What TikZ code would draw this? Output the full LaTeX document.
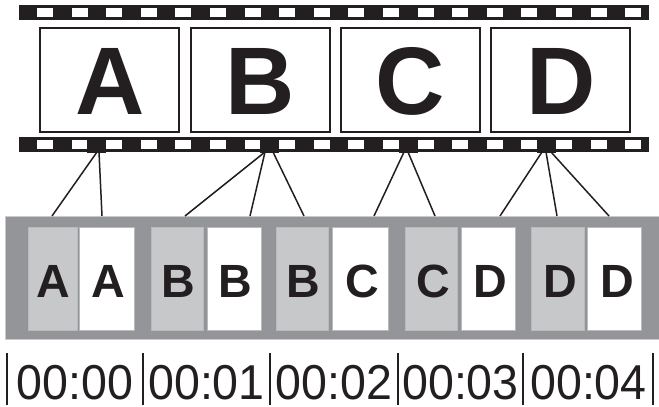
\documentclass[tikz,border=0pt]{standalone}
\usepackage{fontspec}
\setmainfont{Liberation Sans}
\definecolor{ink}{HTML}{231F20}
\definecolor{midgray}{HTML}{939598}
\definecolor{lightpanel}{HTML}{C7C8CA}
\definecolor{edgegray}{HTML}{B8BABC}
\definecolor{boxedge}{HTML}{C9CACC}
\begin{document}
\begin{tikzpicture}[x=1pt,y=-1pt,
  frame/.style={draw=ink, line width=2pt, minimum width=139pt, minimum height=104pt, inner sep=0pt},
  bigletter/.style={font=\fontsize{96}{96}\selectfont\bfseries, text=ink, inner sep=0pt, anchor=base},
  panelg/.style={fill=lightpanel, draw=edgegray, line width=0.8pt, minimum height=103pt, inner sep=0pt},
  panelw/.style={fill=white, draw=edgegray, line width=0.8pt, minimum height=103pt, inner sep=0pt},
  smallletter/.style={font=\fontsize{46.6}{47}\selectfont\bfseries, text=ink, inner sep=0pt, anchor=base},
  timetext/.style={font=\fontsize{49}{50}\selectfont, text=ink, inner sep=0pt, anchor=base},
  link/.style={draw=ink, line width=1.5pt},
  tickbar/.style={draw=ink, line width=1.8pt},
  tab/.style={fill=ink, minimum width=19pt, minimum height=16pt, inner sep=0pt}
]
\useasboundingbox (0,0) rectangle (659,407);
\fill[white] (0,0) rectangle (659,407);

% film strips
\fill[ink] (19,5) rectangle (649,20);
\fill[ink] (19,137) rectangle (649,152);
\foreach \k in {0,...,17}{
  \fill[white] ({37+34.6*\k},8) rectangle ++(16,9);
  \fill[white] ({37+34.6*\k},140) rectangle ++(16,9);
}
\node[tab] (tA) at (96.5,144.5) {};
\node[tab] (tB) at (269.5,144.5) {};
\node[tab] (tC) at (408,144.5) {};
\node[tab] (tD) at (546.5,144.5) {};

% frames
\node[frame] (FA) at (109.5,80) {};
\node[frame] (FB) at (260,80) {};
\node[frame] (FC) at (410.5,80) {};
\node[frame] (FD) at (560.5,80) {};
\node[bigletter] (LA) at (110,114) {A};
\node[bigletter] (LB) at (260,114) {B};
\node[bigletter] (LC) at (410.5,114) {C};
\node[bigletter] (LD) at (561,114) {D};

% grey band
\filldraw[fill=midgray, draw=boxedge, line width=1pt] (5.5,216) rectangle (661,339.5);

% panels
\node[panelg, minimum width=49pt] (p1) at (52.5,278.5) {};
\node[panelw, minimum width=55pt] (p2) at (106.5,278.5) {};
\node[panelg, minimum width=52pt] (p3) at (177,278.5) {};
\node[panelw, minimum width=54pt] (p4) at (234,278.5) {};
\node[panelg, minimum width=52pt] (p5) at (302,278.5) {};
\node[panelw, minimum width=56pt] (p6) at (360,278.5) {};
\node[panelg, minimum width=52pt] (p7) at (431,278.5) {};
\node[panelw, minimum width=54pt] (p8) at (488,278.5) {};
\node[panelg, minimum width=53pt] (p9) at (557.5,278.5) {};
\node[panelw, minimum width=54pt] (p10) at (614,278.5) {};

\node[smallletter] (q1) at (53,297) {A};
\node[smallletter] (q2) at (108,297) {A};
\node[smallletter] (q3) at (178,297) {B};
\node[smallletter] (q4) at (235.5,297) {B};
\node[smallletter] (q5) at (303,297) {B};
\node[smallletter] (q6) at (362.5,297) {C};
\node[smallletter] (q7) at (433,297) {C};
\node[smallletter] (q8) at (490.5,297) {D};
\node[smallletter] (q9) at (560,297) {D};
\node[smallletter] (q10) at (617,297) {D};

% connectors
\coordinate (s1) at (97,152);  \coordinate (e1) at (52,216);
\coordinate (s2) at (99,152);  \coordinate (e2) at (102,216);
\coordinate (s3) at (265,152); \coordinate (e3) at (185,216);
\coordinate (s4) at (265,152); \coordinate (e4) at (250,216);
\coordinate (s5) at (273,152); \coordinate (e5) at (304,216);
\coordinate (s6) at (404,152); \coordinate (e6) at (374,216);
\coordinate (s7) at (408,152); \coordinate (e7) at (435,216);
\coordinate (s8) at (542,152); \coordinate (e8) at (500,216);
\coordinate (s9) at (546,152); \coordinate (e9) at (557,216);
\coordinate (s10) at (551,152); \coordinate (e10) at (609,216);
\foreach \i in {1,...,10}{ \draw[link] (s\i) -- (e\i); }

% timeline
\foreach \x [count=\i] in {7,143,270,398,523,653}{
  \coordinate (bt\i) at (\x,353);
  \coordinate (bb\i) at (\x,405);
  \draw[tickbar] (bt\i) -- (bb\i);
}
\node[timetext] (t0) at (75,399.5) {\scalebox{0.95}[1]{00:00}};
\node[timetext] (t1) at (206.5,399.5) {\scalebox{0.95}[1]{00:01}};
\node[timetext] (t2) at (334,399.5) {\scalebox{0.95}[1]{00:02}};
\node[timetext] (t3) at (460.5,399.5) {\scalebox{0.95}[1]{00:03}};
\node[timetext] (t4) at (588.5,399.5) {\scalebox{0.95}[1]{00:04}};
\end{tikzpicture}
\end{document}
